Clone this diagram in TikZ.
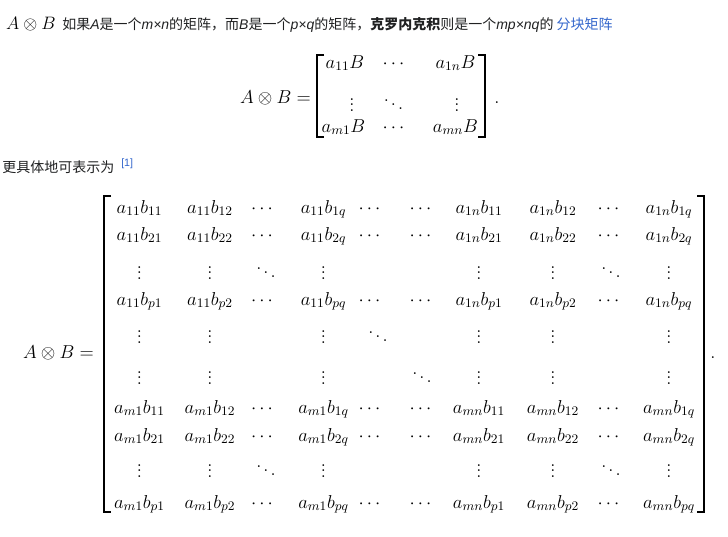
\RequirePackage{fix-cm}
\documentclass[tikz,border=0pt]{standalone}
\usepackage{amsmath}
\usepackage[no-math]{fontspec}
\newfontfamily\cjkfont{Noto Sans CJK SC}
\newfontfamily\wikisans{Liberation Sans}
\definecolor{wikitext}{HTML}{202122}
\definecolor{wikilink}{HTML}{3366CC}
\newcommand\mathsize{\fontsize{14}{17}\selectfont}
\newcommand\lat[1]{{\wikisans\itshape #1}}

\begin{document}
\begin{tikzpicture}[x=0.75pt,y=-0.75pt]

    \tikzset{ent/.style={anchor=base,inner sep=0pt,text=black,font=\mathsize},
             txt/.style={anchor=base west,inner sep=0pt,text=wikitext,font=\cjkfont\fontsize{10.5}{12}\selectfont},
             brk/.style={draw=black,line width=1.4pt}}
    \fill[white] (0,0) rectangle (728,536);
    \useasboundingbox (0,0) rectangle (728,536);

    % heading lines
    \node[ent,font=\fontsize{13.5}{16}\selectfont] (kron) at (31,29) {$A\otimes B$};
    \node[txt] (intro) at (62,29) {如果\lat{A}是一个\lat{m×n}的矩阵，而\lat{B}是一个\lat{p×q}的矩阵，\textbf{克罗内克积}则是一个\lat{mp×nq}的 \textcolor{wikilink}{分块矩阵}};
    \node[txt] (more) at (2,172) {更具体地可表示为};
    \node[anchor=base west,inner sep=0pt,text=wikilink,font=\wikisans\fontsize{8}{9}\selectfont] (ref) at (121,166) {[1]};

    % block form
    \node[ent] (lhs1) at (275.5,103) {$A\otimes B=$};
    \node[ent] (s11) at (345,68) {$a_{11}B$};
    \node[ent] (s12) at (395,68) {$\cdots$};
    \node[ent] (s13) at (455.5,68) {$a_{1n}B$};
    \node[ent] (s21) at (352,111) {$\vdots$};
    \node[ent] (s22) at (393.5,111) {$\ddots$};
    \node[ent] (s23) at (457,111) {$\vdots$};
    \node[ent] (s31) at (343.5,132) {$a_{m1}B$};
    \node[ent] (s32) at (395,132) {$\cdots$};
    \node[ent] (s33) at (455.5,132) {$a_{mn}B$};
    \node[ent] (dot1) at (497,103) {$.$};
    \draw[brk] (324,55) -- (317,55) -- (317,137) -- (324,137);
    \draw[brk] (478,55) -- (485,55) -- (485,137) -- (478,137);

    % full form
    \node[ent] (lhs2) at (58.5,358) {$A\otimes B=$};

    \node[ent] (r1c1) at (139.5,213) {$a_{11}b_{11}$};
    \node[ent] (r1c2) at (210,213) {$a_{11}b_{12}$};
    \node[ent] (r1c3) at (263.5,213) {$\cdots$};
    \node[ent] (r1c4) at (323.5,213) {$a_{11}b_{1q}$};
    \node[ent] (r1c5) at (371,213) {$\cdots$};
    \node[ent] (r1c6) at (422,213) {$\cdots$};
    \node[ent] (r1c7) at (479,213) {$a_{1n}b_{11}$};
    \node[ent] (r1c8) at (553,213) {$a_{1n}b_{12}$};
    \node[ent] (r1c9) at (610,213) {$\cdots$};
    \node[ent] (r1c10) at (669,213) {$a_{1n}b_{1q}$};

    \node[ent] (r2c1) at (139.5,240) {$a_{11}b_{21}$};
    \node[ent] (r2c2) at (210,240) {$a_{11}b_{22}$};
    \node[ent] (r2c3) at (263.5,240) {$\cdots$};
    \node[ent] (r2c4) at (323.5,240) {$a_{11}b_{2q}$};
    \node[ent] (r2c5) at (371,240) {$\cdots$};
    \node[ent] (r2c6) at (422,240) {$\cdots$};
    \node[ent] (r2c7) at (479,240) {$a_{1n}b_{21}$};
    \node[ent] (r2c8) at (553,240) {$a_{1n}b_{22}$};
    \node[ent] (r2c9) at (610,240) {$\cdots$};
    \node[ent] (r2c10) at (669,240) {$a_{1n}b_{2q}$};

    \node[ent] (r3c1) at (139.5,279) {$\vdots$};
    \node[ent] (r3c2) at (210,279) {$\vdots$};
    \node[ent] (r3c3) at (266,279) {$\ddots$};
    \node[ent] (r3c4) at (323.5,279) {$\vdots$};
    \node[ent] (r3c7) at (479,279) {$\vdots$};
    \node[ent] (r3c8) at (553,279) {$\vdots$};
    \node[ent] (r3c9) at (611,279) {$\ddots$};
    \node[ent] (r3c10) at (669,279) {$\vdots$};

    \node[ent] (r4c1) at (139.5,305) {$a_{11}b_{p1}$};
    \node[ent] (r4c2) at (210,305) {$a_{11}b_{p2}$};
    \node[ent] (r4c3) at (263.5,305) {$\cdots$};
    \node[ent] (r4c4) at (323.5,305) {$a_{11}b_{pq}$};
    \node[ent] (r4c5) at (371,305) {$\cdots$};
    \node[ent] (r4c6) at (422,305) {$\cdots$};
    \node[ent] (r4c7) at (479,305) {$a_{1n}b_{p1}$};
    \node[ent] (r4c8) at (553,305) {$a_{1n}b_{p2}$};
    \node[ent] (r4c9) at (610,305) {$\cdots$};
    \node[ent] (r4c10) at (669,305) {$a_{1n}b_{pq}$};

    \node[ent] (r5c1) at (139.5,343) {$\vdots$};
    \node[ent] (r5c2) at (210,343) {$\vdots$};
    \node[ent] (r5c4) at (323.5,343) {$\vdots$};
    \node[ent] (r5c5) at (378,343) {$\ddots$};
    \node[ent] (r5c7) at (479,343) {$\vdots$};
    \node[ent] (r5c8) at (553,343) {$\vdots$};
    \node[ent] (r5c10) at (669,343) {$\vdots$};

    \node[ent] (r6c1) at (139.5,384) {$\vdots$};
    \node[ent] (r6c2) at (210,384) {$\vdots$};
    \node[ent] (r6c4) at (323.5,384) {$\vdots$};
    \node[ent] (r6c6) at (422,384) {$\ddots$};
    \node[ent] (r6c7) at (479,384) {$\vdots$};
    \node[ent] (r6c8) at (553,384) {$\vdots$};
    \node[ent] (r6c10) at (669,384) {$\vdots$};

    \node[ent] (r7c1) at (139.5,413) {$a_{m1}b_{11}$};
    \node[ent] (r7c2) at (210,413) {$a_{m1}b_{12}$};
    \node[ent] (r7c3) at (263.5,413) {$\cdots$};
    \node[ent] (r7c4) at (323.5,413) {$a_{m1}b_{1q}$};
    \node[ent] (r7c5) at (371,413) {$\cdots$};
    \node[ent] (r7c6) at (422,413) {$\cdots$};
    \node[ent] (r7c7) at (479,413) {$a_{mn}b_{11}$};
    \node[ent] (r7c8) at (553,413) {$a_{mn}b_{12}$};
    \node[ent] (r7c9) at (610,413) {$\cdots$};
    \node[ent] (r7c10) at (669,413) {$a_{mn}b_{1q}$};

    \node[ent] (r8c1) at (139.5,441) {$a_{m1}b_{21}$};
    \node[ent] (r8c2) at (210,441) {$a_{m1}b_{22}$};
    \node[ent] (r8c3) at (263.5,441) {$\cdots$};
    \node[ent] (r8c4) at (323.5,441) {$a_{m1}b_{2q}$};
    \node[ent] (r8c5) at (371,441) {$\cdots$};
    \node[ent] (r8c6) at (422,441) {$\cdots$};
    \node[ent] (r8c7) at (479,441) {$a_{mn}b_{21}$};
    \node[ent] (r8c8) at (553,441) {$a_{mn}b_{22}$};
    \node[ent] (r8c9) at (610,441) {$\cdots$};
    \node[ent] (r8c10) at (669,441) {$a_{mn}b_{2q}$};

    \node[ent] (r9c1) at (139.5,477) {$\vdots$};
    \node[ent] (r9c2) at (210,477) {$\vdots$};
    \node[ent] (r9c3) at (266,477) {$\ddots$};
    \node[ent] (r9c4) at (323.5,477) {$\vdots$};
    \node[ent] (r9c7) at (479,477) {$\vdots$};
    \node[ent] (r9c8) at (553,477) {$\vdots$};
    \node[ent] (r9c9) at (611,477) {$\ddots$};
    \node[ent] (r9c10) at (669,477) {$\vdots$};

    \node[ent] (r10c1) at (139.5,508) {$a_{m1}b_{p1}$};
    \node[ent] (r10c2) at (210,508) {$a_{m1}b_{p2}$};
    \node[ent] (r10c3) at (263.5,508) {$\cdots$};
    \node[ent] (r10c4) at (323.5,508) {$a_{m1}b_{pq}$};
    \node[ent] (r10c5) at (371,508) {$\cdots$};
    \node[ent] (r10c6) at (422,508) {$\cdots$};
    \node[ent] (r10c7) at (479,508) {$a_{mn}b_{p1}$};
    \node[ent] (r10c8) at (553,508) {$a_{mn}b_{p2}$};
    \node[ent] (r10c9) at (610,508) {$\cdots$};
    \node[ent] (r10c10) at (669,508) {$a_{mn}b_{pq}$};

    \node[ent] (dot2) at (713,358) {$.$};
    \draw[brk] (111,196) -- (104,196) -- (104,512) -- (111,512);
    \draw[brk] (697,196) -- (704,196) -- (704,512) -- (697,512);
\end{tikzpicture}
\end{document}
